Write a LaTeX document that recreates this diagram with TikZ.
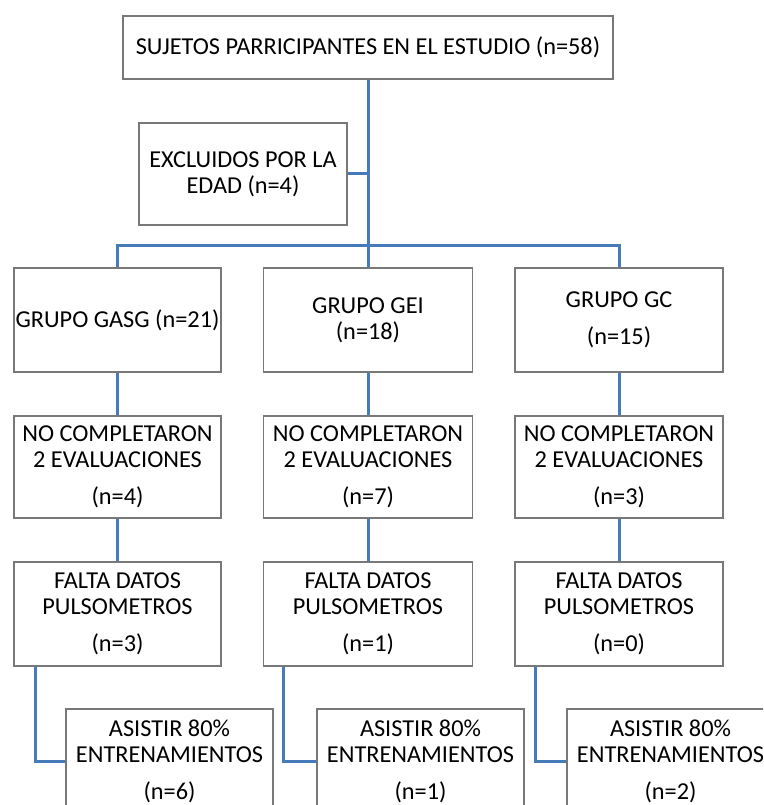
\documentclass[tikz,border=0pt]{standalone}
\usepackage{fontspec}
\setmainfont{Carlito}
\usetikzlibrary{calc}
\definecolor{connblue}{RGB}{70,122,184}
\definecolor{boxgray}{RGB}{120,120,120}
\tikzset{
  box/.style={draw=boxgray, line width=1.3pt, fill=white, align=center, inner sep=1pt,
    font=\fontsize{24.3}{26}\selectfont, text=black},
  conn/.style={draw=connblue, line width=3pt},
}
\begin{document}
\begin{tikzpicture}[x=1pt,y=-1pt]
\useasboundingbox (0,0) rectangle (763,805);
\clip (0,0) rectangle (763,805);
% top
\node[box, minimum width=490pt, minimum height=63pt] (top) at (368,47.5) {SUJETOS PARRICIPANTES EN EL ESTUDIO (n=58)};
\node[box, minimum width=208pt, minimum height=102pt] (excl) at (243,174) {EXCLUIDOS POR LA\\EDAD (n=4)};
\coordinate (hub) at (368,245);
% groups
\node[box, minimum width=207pt, minimum height=104pt] (g1) at (117.5,320) {GRUPO GASG (n=21)};
\node[box, minimum width=209pt, minimum height=104pt] (g2) at (368,320) {GRUPO GEI\\(n=18)};
\node[box, minimum width=208pt, minimum height=104pt] (g3) at (619,320) {GRUPO GC\\[11pt](n=15)};
% row 2
\node[box, minimum width=207pt, minimum height=102pt] (c1) at (117.5,467) {NO COMPLETARON\\2 EVALUACIONES\\[11pt](n=4)};
\node[box, minimum width=209pt, minimum height=102pt] (c2) at (368,467) {NO COMPLETARON\\2 EVALUACIONES\\[11pt](n=7)};
\node[box, minimum width=208pt, minimum height=102pt] (c3) at (619,467) {NO COMPLETARON\\2 EVALUACIONES\\[11pt](n=3)};
% row 3
\node[box, minimum width=207pt, minimum height=104pt] (f1) at (117.5,614) {FALTA DATOS\\PULSOMETROS\\[11pt](n=3)};
\node[box, minimum width=209pt, minimum height=104pt] (f2) at (368,614) {FALTA DATOS\\PULSOMETROS\\[11pt](n=1)};
\node[box, minimum width=208pt, minimum height=104pt] (f3) at (619,614) {FALTA DATOS\\PULSOMETROS\\[11pt](n=0)};
% row 4
\node[box, minimum width=207pt, minimum height=104pt] (a1) at (169.5,761) {ASISTIR 80\%\\ENTRENAMIENTOS\\[11pt](n=6)};
\node[box, minimum width=207pt, minimum height=104pt] (a2) at (420.5,761) {ASISTIR 80\%\\ENTRENAMIENTOS\\[11pt](n=1)};
\node[box, minimum width=207pt, minimum height=104pt] (a3) at (670.5,761) {ASISTIR 80\%\\ENTRENAMIENTOS\\[11pt](n=2)};
% connectors
\draw[conn] (top.south) -- (hub);
\draw[conn] (excl.east) -- (excl.east -| hub);
\draw[conn] (g1.north) |- (hub) -| (g3.north);
\draw[conn] (hub) -- (g2.north);
\draw[conn] (g1.south) -- (c1.north);
\draw[conn] (g2.south) -- (c2.north);
\draw[conn] (g3.south) -- (c3.north);
\draw[conn] (c1.south) -- (f1.north);
\draw[conn] (c2.south) -- (f2.north);
\draw[conn] (c3.south) -- (f3.north);
\draw[conn] ($(f1.south west)+(22,0)$) |- (a1.west);
\draw[conn] ($(f2.south west)+(21,0)$) |- (a2.west);
\draw[conn] ($(f3.south west)+(21,0)$) |- (a3.west);
\end{tikzpicture}
\end{document}
